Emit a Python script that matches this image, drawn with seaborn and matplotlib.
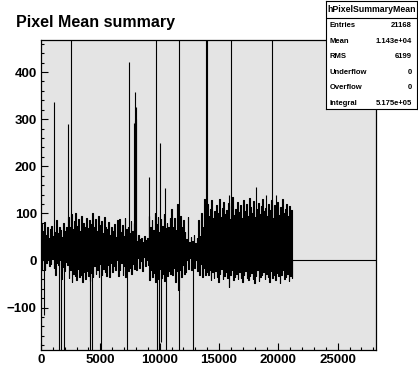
import numpy as np
import matplotlib
matplotlib.use("Agg")
import matplotlib.pyplot as plt
from matplotlib.ticker import MultipleLocator
import seaborn as sns
import pandas as pd

# histogram range
n_bins = 21168
x_max = 28224
y_lo, y_hi = -190, 469

# max / min of the trace in slices of 126 bins
slice_w = 126
w_hi = [78, 62, 82, 55, 70, 48, 66, 74, 52, 60, 85, 58, 72, 64, 50, 80, 62, 70,
        92, 70, 98, 66, 84, 100, 74, 88, 62, 95, 80, 72, 90, 68, 86, 78,
        100, 70, 88, 62, 95, 76, 84, 58, 92, 70, 66,
        82, 55, 70, 62, 78, 50, 85,
        88, 60, 75, 52, 90, 66, 70, 58, 84, 62, 80,
        50, 42, 55, 45, 48, 40, 52, 44, 47,
        95, 70, 85, 64, 100, 78, 92, 60, 88, 74, 98, 68, 80, 72, 90,
        110, 72, 90, 65, 120, 80, 95, 70, 85,
        60, 45, 92, 40, 50, 42, 55, 38, 48, 85, 52,
        100, 70, 130, 88,
        120, 95, 110, 128, 90, 105, 118, 100, 130, 92,
        112, 125, 98, 108, 122, 88, 115, 135, 96, 110,
        124, 102, 118, 90, 128, 106, 120, 94, 132, 114,
        100, 126, 92, 110, 122, 98, 116, 130, 104, 112,
        95, 120, 108, 128, 90, 118, 102, 124, 96, 114,
        130, 100, 110, 120, 94, 116, 108]
w_lo = [-18, 2, -21, -5, 0, -12, -8, 4, -15, -30, -6, -10, 1, -40, -14, -22, -4, -9,
        -38, -20, -46, -28, -34, -42, -18, -36, -30, -45, -25, -40, -22, -33, -44, -27,
        -35, -12, -28, -20, -36, -8, -30, -18, -25, -32, -10,
        -35, -5, -25, -12, -20, 2, -32,
        -20, -5, -30, -12, -35, 0, -22, -15, -28, -8, -18,
        -20, 5, -15, -2, -22, 8, -12, 0, -10,
        -42, -20, -35, -26, -45, -30, -40, -18, -38, -28, -44, -24, -32, -22, -28,
        -30, -15, -45, -22, -63, -20, -35, -10, -28,
        -25, 0, -18, 5, -20, -5, -15, 2, -22, -30, -8,
        -35, -15, -30, -25,
        -30, -20, -42, -25, -38, -22, -35, -45, -28, -18,
        -40, -33, -24, -38, -56, -30, -20, -42, -35, -28,
        -40, -25, -37, -45, -30, -22, -38, -42, -34, -26,
        -40, -48, -32, -20, -44, -36, -30, -24, -40, -28,
        -35, -45, -22, -38, -30, -42, -26, -34, -48, -30,
        -20, -40, -36, -28, -44, -32, -38]

# isolated bins far from the band (+-500 = off scale)
spike_x = [278, 1120, 1542, 1660, 1963, 2300, 2550, 4154, 4272, 5055, 7220, 7440,
           7860, 7900, 7945, 7990, 8030, 9125, 9715, 9773, 9916, 10050, 10080, 10470,
           10557, 11601, 11650, 12831, 13880, 13990, 15810, 16030, 18140, 18990, 19490,
           19800]
spike_val = [-115, 336, -500, -500, -500, 289, 500, -500, -500, -500, -500, 421,
             291, 295, 357, 300, 325, 177, 500, -500, -500, 249, -172, 153,
             -500, -500, 500, -500, 500, 500, 140, 500, 157, 140, 500,
             138]

stats_names = ["Entries", "Mean", "RMS", "Underflow", "Overflow", "Integral"]
stats_vals = ["21168", "1.143e+04", "6199", "0", "0", "5.175e+05"]

sns.set_theme(style="ticks")
plt.rcParams["font.family"] = ["Liberation Sans", "DejaVu Sans"]
plt.rcParams["font.weight"] = "bold"
plt.rcParams["text.color"] = "black"
plt.rcParams["xtick.color"] = "black"
plt.rcParams["ytick.color"] = "black"

# trace: each slice goes up to its max then down to its min, then empty bins
starts = np.arange(len(w_hi)) * slice_w
tx = np.column_stack([starts, starts + slice_w / 2]).ravel()
ty = np.column_stack([w_hi, w_lo]).ravel()
trace = pd.DataFrame({"x": np.r_[tx, n_bins, x_max], "y": np.r_[ty, 0, 0]})

fig = plt.figure(figsize=(4.18, 3.90), dpi=100)
ax = fig.add_axes([41 / 418, 40 / 390, 335 / 418, 310.5 / 390])
ax.set_facecolor("#e4e4e4")

sns.lineplot(data=trace, x="x", y="y", color="black", lw=0.8, ax=ax,
             estimator=None, sort=False, drawstyle="steps-post")
ax.vlines(spike_x, 0, spike_val, color="black", lw=0.8)

ax.set_xlim(0, x_max)
ax.set_ylim(y_lo, y_hi)
ax.set_xlabel("")
ax.set_ylabel("")
ax.xaxis.set_major_locator(MultipleLocator(5000))
ax.xaxis.set_minor_locator(MultipleLocator(1000))
ax.yaxis.set_major_locator(MultipleLocator(100))
ax.yaxis.set_minor_locator(MultipleLocator(20))
ax.tick_params(which="both", direction="in", width=0.8, colors="black",
               top=False, right=False, labelsize=9.5)
ax.tick_params(which="major", length=5, pad=3)
ax.tick_params(which="minor", length=2.5)
for s in ax.spines.values():
    s.set_color("black")
    s.set_linewidth(0.9)
    s.set_visible(True)

fig.text(16 / 418, 1 - 26.5 / 390, "Pixel Mean summary", fontsize=11.5,
         fontweight="bold", va="baseline", ha="left", color="black")

# stats box
sb = fig.add_axes([326 / 418, 1 - 109 / 390, 91 / 418, 108.5 / 390])
sb.set_facecolor("white")
sb.set_xticks([])
sb.set_yticks([])
sb.set_xlim(0, 91)
sb.set_ylim(109, 0)
for s in sb.spines.values():
    s.set_color("black")
    s.set_linewidth(0.8)
    s.set_visible(True)
sb.axhline(17.5, color="black", lw=0.8)
sb.text(45.5, 9, "hPixelSummaryMean", fontsize=6.3, fontweight="bold",
        ha="center", va="center")
for i, (name, val) in enumerate(zip(stats_names, stats_vals)):
    yy = 25.5 + i * 15.6
    sb.text(3.5, yy, name, fontsize=5.5, fontweight="bold", ha="left", va="center")
    sb.text(85.5, yy, val, fontsize=5.5, fontweight="bold", ha="right", va="center")

fig.savefig("out.png", dpi=100)
